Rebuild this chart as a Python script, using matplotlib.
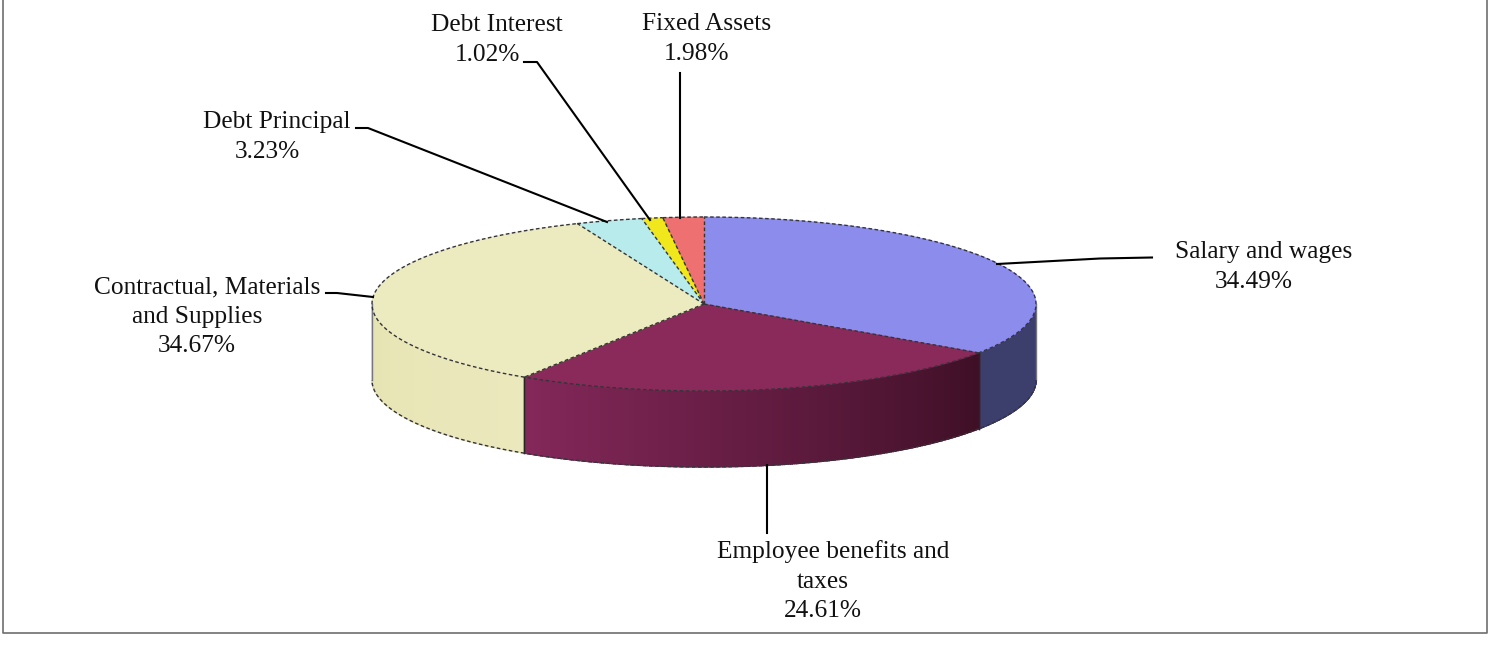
import numpy as np
import matplotlib
matplotlib.use("Agg")
import matplotlib.pyplot as plt
from matplotlib.patches import Polygon
from matplotlib.colors import to_rgb

plt.rcParams["font.family"] = ["Liberation Serif"]

categories = ["Salary and wages", "Employee benefits and\ntaxes",
              "Contractual, Materials\nand Supplies", "Debt Principal",
              "Debt Interest", "Fixed Assets"]
values = [34.49, 24.61, 34.67, 3.23, 1.02, 1.98]

top_colors = ["#8c8cec", "#8a2a5a", "#ecebbf", "#b8ebeb", "#f0e81c", "#ee7070"]
side_left = ["#3c3e6c", "#84285a", "#e6e3b2", "#8fb5b5", "#b0aa10", "#b05050"]
side_right = ["#3c3e6c", "#3e0f26", "#ebe8bd", "#8fb5b5", "#b0aa10", "#b05050"]

W, H = 1491, 645
CX, CY, RX, RY, DEPTH = 704, 304, 332, 87, 76

fig = plt.figure(figsize=(W / 100, H / 100), dpi=100, facecolor="white")
ax = fig.add_axes([0, 0, 1, 1])
ax.set_xlim(0, W)
ax.set_ylim(H, 0)
ax.axis("off")


def pt(theta, dy=0.0):
    theta = np.asarray(theta)
    return CX + RX * np.sin(theta), CY - RY * np.cos(theta) + dy


edges = np.radians(np.concatenate([[0], np.cumsum(values)]) * 3.6)
EDGE = dict(color="#34343a", lw=1.0, ls=(0, (2.6, 1.8)), zorder=5)

# side faces (only the front half of the disc shows)
for i in range(len(values)):
    a = max(edges[i], np.pi / 2)
    b = min(edges[i + 1], 3 * np.pi / 2)
    if b <= a:
        continue
    ts = np.linspace(a, b, 240)
    c0, c1 = np.array(to_rgb(side_right[i])), np.array(to_rgb(side_left[i]))
    for j in range(len(ts) - 1):
        t = np.array([ts[j], ts[j + 1]])
        x, y = pt(t)
        x2, y2 = pt(t[::-1], DEPTH)
        f = (j + 0.5) / (len(ts) - 1)
        col = c0 + (c1 - c0) * f
        ax.add_patch(Polygon(np.c_[np.r_[x, x2], np.r_[y, y2]], closed=True,
                             fc=col, ec=col, lw=1.0, zorder=2))
    tt = np.linspace(a, b, 120)
    ax.plot(*pt(tt, DEPTH), **EDGE)
    for e in (a, b):
        if e not in (np.pi / 2, 3 * np.pi / 2):
            ax.plot(*zip(pt(e), pt(e, DEPTH)), color="#30202a", lw=1.0, zorder=4)

for e in (np.pi / 2, 3 * np.pi / 2):
    ax.plot(*zip(pt(e), pt(e, DEPTH)), color="#777777", lw=1.0, zorder=4)

# top faces
for i in range(len(values)):
    tt = np.linspace(edges[i], edges[i + 1], 200)
    x, y = pt(tt)
    ax.add_patch(Polygon(np.c_[np.r_[CX, x], np.r_[CY, y]], closed=True,
                         fc=top_colors[i], ec=top_colors[i], lw=0.4, zorder=3))
    ax.plot(x, y, **EDGE)
    ax.plot(*zip((CX, CY), pt(edges[i])), **EDGE)

# leader lines
leaders = [
    [(997, 264), (1100, 258.5), (1152, 257.5)],
    [(767, 465), (767, 533)],
    [(373, 297), (337, 293), (326, 293)],
    [(607, 222), (368, 128), (356, 128)],
    [(650, 220), (537, 62), (524, 62)],
    [(680, 218), (680, 73)],
]
for pts in leaders:
    ax.plot(*zip(*pts), color="black", lw=1.5, zorder=6, solid_joinstyle="round")

# labels: (first-line centre x, first-line baseline y)
label_pos = [(1264, 258), (833, 558), (207, 293), (277, 128), (497, 31), (707, 30)]
LINE_STEP = 29.6
LINE_SHIFT = 10.0
for name, v, (x, y) in zip(categories, values, label_pos):
    lines = name.split("\n") + [f"{v:.2f}%"]
    for k, line in enumerate(lines):
        ax.text(x - (LINE_SHIFT if k else 0), y + k * LINE_STEP, line, ha="center",
                va="baseline", fontsize=18.3, color="#111111", zorder=7)

# frame
ax.plot([2.5, 2.5, 1486.5, 1486.5], [0, 632.5, 632.5, 0], color="#6e6e6e", lw=1.2, zorder=1)

fig.savefig("out.png", dpi=100, facecolor="white")
